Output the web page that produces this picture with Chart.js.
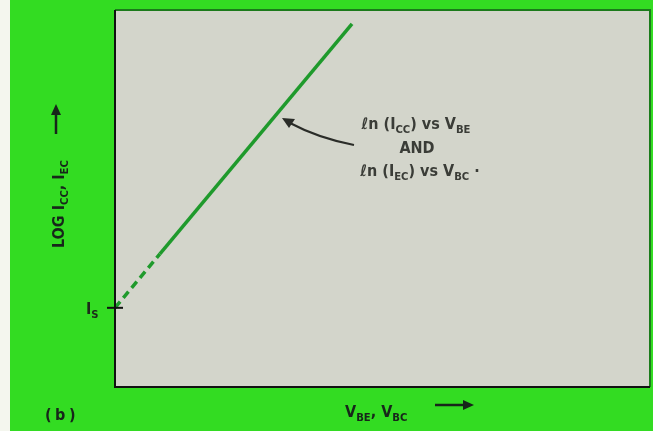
<!DOCTYPE html>
<html>
<head>
<meta charset="utf-8">
<script src="https://cdn.jsdelivr.net/npm/chart.js@4"></script>
<style>
  html, body { margin: 0; padding: 0; background: #f4f6ee; }
  #wrap { width: 653px; height: 431px; }
</style>
</head>
<body>
<div id="wrap"><canvas id="chart" width="653" height="431"></canvas></div>
<script>
// V_BE / V_BC (arbitrary units) and log current (arbitrary units)
let vDashed = [0, 0.84];
let logDashed = [2.1, 3.53];
let vSolid = [0.84, 4.43];
let logSolid = [3.53, 9.63];

let xTitle = [["V", 0], ["BE", 1], [", V", 0], ["BC", 1]];
let yTitle = [["LOG I", 0], ["CC", 1], [", I", 0], ["EC", 1]];
let note1 = [["\u2113n (I", 0], ["CC", 1], [") vs V", 0], ["BE", 1]];
let note2 = "AND";
let note3 = [["\u2113n (I", 0], ["EC", 1], [") vs V", 0], ["BC", 1], [" \u00b7", 0]];

const GREEN = "#33dc22";
const LINE = "#1f9a2c";
const FONT = "'Liberation Sans Narrow', 'DejaVu Sans Condensed', sans-serif";

function toPoints(xs, ys) {
    return xs.map(function(x, i) { return { x: x, y: ys[i] }; });
}

// draws text made of [string, isSubscript] parts, returns width
function richText(ctx, parts, x, y, size, align) {
    let total = 0;
    parts.forEach(function(p) {
        ctx.font = "bold " + (p[1] ? size * 0.7 : size) + "px " + FONT;
        total += ctx.measureText(p[0]).width;
    });
    let cx = x;
    if (align === "center") cx = x - total / 2;
    parts.forEach(function(p) {
        ctx.font = "bold " + (p[1] ? size * 0.7 : size) + "px " + FONT;
        ctx.fillText(p[0], cx, p[1] ? y + size * 0.28 : y);
        cx += ctx.measureText(p[0]).width;
    });
    return total;
}

const backdrop = {
    id: "backdrop",
    beforeDraw: function(chart) {
        let ctx = chart.ctx;
        let a = chart.chartArea;
        ctx.save();
        ctx.fillStyle = "#f4f6ee";
        ctx.fillRect(0, 0, chart.width, chart.height);
        ctx.fillStyle = GREEN;
        ctx.fillRect(10, 0, chart.width - 10, chart.height);
        ctx.fillStyle = "#d3d5cb";
        ctx.fillRect(a.left, a.top, a.right - a.left, a.bottom - a.top);
        ctx.restore();
    }
};

const decorations = {
    id: "decorations",
    afterDraw: function(chart) {
        let ctx = chart.ctx;
        let a = chart.chartArea;
        let ys = chart.scales.y;
        ctx.save();

        // frame
        ctx.lineWidth = 2;
        ctx.strokeStyle = "#1b7a1b";
        ctx.beginPath();
        ctx.moveTo(a.left, a.top);
        ctx.lineTo(a.right, a.top);
        ctx.lineTo(a.right, a.bottom);
        ctx.stroke();
        ctx.strokeStyle = "#111";
        ctx.beginPath();
        ctx.moveTo(a.left, a.top);
        ctx.lineTo(a.left, a.bottom);
        ctx.lineTo(a.right, a.bottom);
        ctx.stroke();

        // Is tick
        let isY = ys.getPixelForValue(logDashed[0]);
        ctx.lineWidth = 2;
        ctx.beginPath();
        ctx.moveTo(a.left - 8, isY);
        ctx.lineTo(a.left + 8, isY);
        ctx.stroke();

        ctx.textBaseline = "alphabetic";
        ctx.textAlign = "left";
        ctx.fillStyle = "#1d2a1a";
        richText(ctx, [["I", 0], ["S", 1]], 86, isY + 6, 16, "left");

        // annotation text
        ctx.fillStyle = "#3a3c37";
        richText(ctx, note1, 416, 129, 16, "center");
        richText(ctx, [[note2, 0]], 417, 153, 16, "center");
        richText(ctx, note3, 420, 176, 16, "center");

        // curved arrow to the line
        ctx.strokeStyle = "#2a2c28";
        ctx.lineWidth = 2;
        ctx.beginPath();
        ctx.moveTo(354, 145);
        ctx.quadraticCurveTo(318, 138, 290, 123);
        ctx.stroke();
        ctx.fillStyle = "#2a2c28";
        ctx.beginPath();
        ctx.moveTo(282, 118);
        ctx.lineTo(295, 119);
        ctx.lineTo(289, 128);
        ctx.closePath();
        ctx.fill();

        // axis titles
        ctx.fillStyle = "#17261a";
        richText(ctx, xTitle, 345, 417, 16, "left");
        ctx.strokeStyle = "#17261a";
        ctx.lineWidth = 2.5;
        ctx.beginPath();
        ctx.moveTo(435, 405);
        ctx.lineTo(464, 405);
        ctx.stroke();
        ctx.beginPath();
        ctx.moveTo(474, 405);
        ctx.lineTo(463, 400);
        ctx.lineTo(463, 410);
        ctx.closePath();
        ctx.fill();

        ctx.save();
        ctx.translate(64, 248);
        ctx.rotate(-Math.PI / 2);
        richText(ctx, yTitle, 0, 0, 16, "left");
        ctx.restore();
        ctx.beginPath();
        ctx.moveTo(56, 134);
        ctx.lineTo(56, 114);
        ctx.stroke();
        ctx.beginPath();
        ctx.moveTo(56, 104);
        ctx.lineTo(51, 115);
        ctx.lineTo(61, 115);
        ctx.closePath();
        ctx.fill();

        // panel label
        ctx.font = "bold 16px " + FONT;
        ctx.fillText("(", 45, 420);
        ctx.fillText("b", 55, 420);
        ctx.fillText(")", 69, 420);

        ctx.restore();
    }
};

new Chart(document.getElementById("chart").getContext("2d"), {
    type: "line",
    data: {
        datasets: [
            {
                data: toPoints(vDashed, logDashed),
                borderColor: LINE,
                borderWidth: 3.5,
                borderDash: [8, 5],
                pointRadius: 0
            },
            {
                data: toPoints(vSolid, logSolid),
                borderColor: LINE,
                borderWidth: 3.5,
                pointRadius: 0
            }
        ]
    },
    options: {
        responsive: false,
        animation: false,
        layout: { padding: { left: 115, top: 10, right: 3, bottom: 44 } },
        plugins: { legend: { display: false }, tooltip: { enabled: false } },
        scales: {
            x: { type: "linear", min: 0, max: 10, display: false },
            y: { type: "linear", min: 0, max: 10, display: false }
        }
    },
    plugins: [backdrop, decorations]
});
</script>
</body>
</html>
